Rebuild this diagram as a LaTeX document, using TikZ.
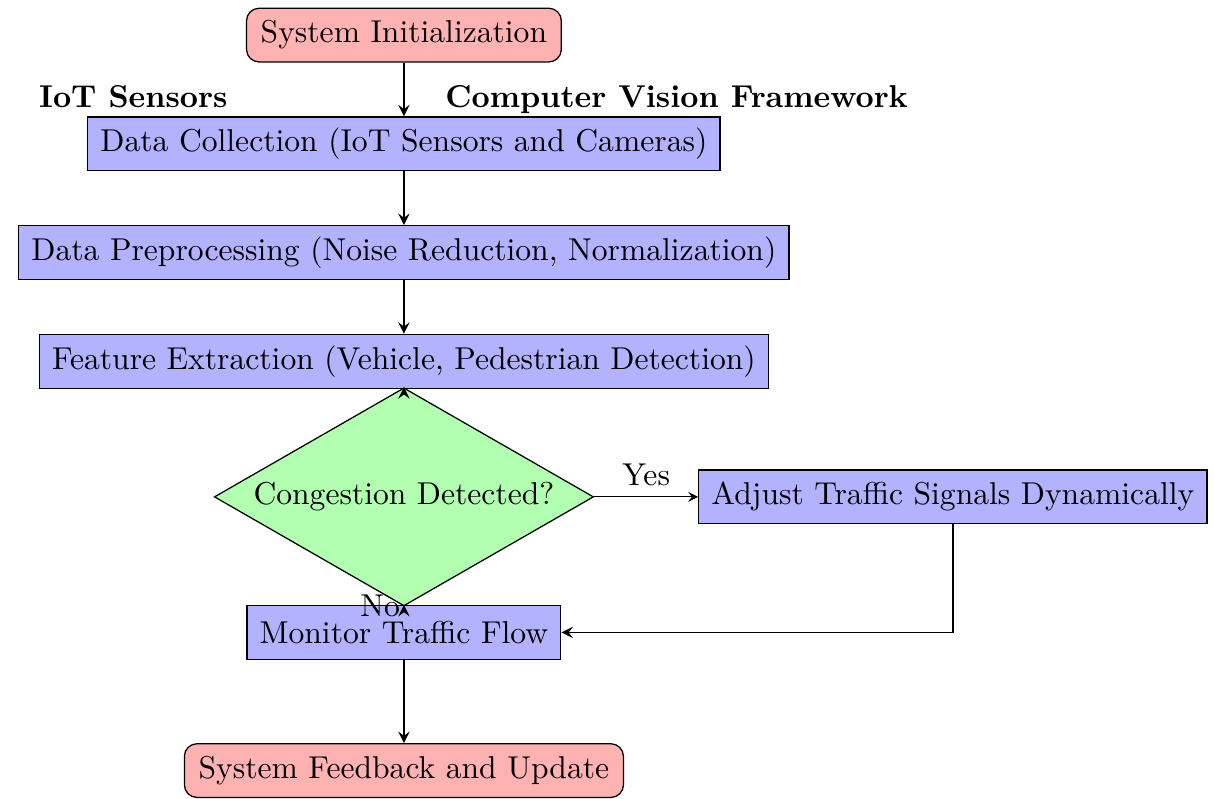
\documentclass[tikz,border=0pt]{standalone}
\usetikzlibrary{shapes.geometric,positioning}
\begin{document}
\begin{tikzpicture}[node distance=17pt,
        startstop/.style = {shape=rectangle, rounded corners, draw,
            fill=red!30, minimum height=17pt, inner xsep=4.5pt},
        process/.style = {shape=rectangle, draw, fill=blue!30,
            minimum height=17pt, inner xsep=4pt},
        decision/.style = {shape=diamond, draw, fill=green!30, aspect=1.74,
            minimum width=120pt, minimum height=69pt, inner sep=0pt},
        tag/.style = {font=\bfseries, anchor=base},
        arrow/.style = {semithick, ->, >=stealth}]
    \useasboundingbox (-127.8pt,11.1pt) rectangle (256.3pt,-241.5pt);
    \node[startstop] (init) at (0,0) {System Initialization};
    \node[process, below=of init] (collect) {Data Collection (IoT Sensors and Cameras)};
    \node[process, below=of collect] (prep) {Data Preprocessing (Noise Reduction, Normalization)};
    \node[process, below=of prep] (feature) {Feature Extraction (Vehicle, Pedestrian Detection)};
    \node[decision, below=-0.5pt of feature] (decide) {Congestion Detected?};
    \node[process, right=32.9pt of decide] (adjust) {Adjust Traffic Signals Dynamically};
    \node[process, below=-0.5pt of decide] (monitor) {Monitor Traffic Flow};
    \node[startstop, below=26.3pt of monitor] (feedback) {System Feedback and Update};
    % labels over the data collection step
    \node[tag] (iot) at ([xshift=14.6pt, yshift=2.8pt]collect.north west) {IoT Sensors};
    \node[tag] (vision) at ([xshift=-13.9pt, yshift=2.8pt]collect.north east) {Computer Vision Framework};
    \draw[arrow] (init) -- (collect);
    \draw[arrow] (collect) -- (prep);
    \draw[arrow] (prep) -- (feature);
    \draw[arrow] (feature) -- (decide);
    \draw[->, >=stealth] (decide) -- node[above] {Yes} (adjust);
    \draw[arrow] (decide) -- node[left, inner sep=1pt] {No} (monitor);
    \draw[arrow] (adjust) |- (monitor);
    \draw[arrow] (monitor) -- (feedback);
\end{tikzpicture}
\end{document}
